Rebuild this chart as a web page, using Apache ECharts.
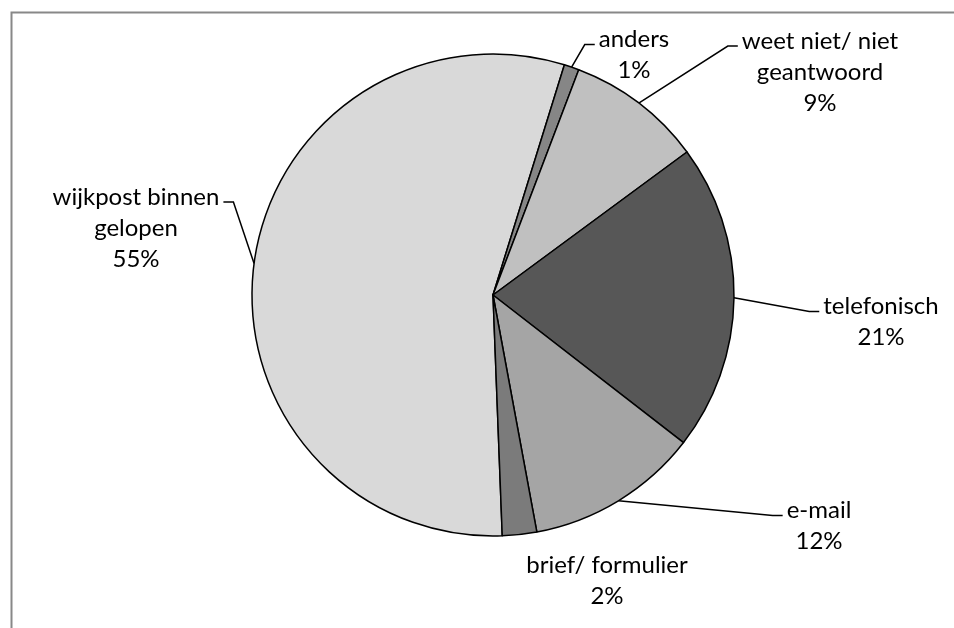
<!DOCTYPE html>
<html>
<head>
<meta charset="utf-8">
<script src="https://cdn.jsdelivr.net/npm/echarts@6/dist/echarts.min.js"></script>
<style>
  html, body { margin: 0; padding: 0; background: #fff; }
  #chart { width: 954px; height: 628px; }
</style>
</head>
<body>
<div id="chart"></div>
<script>
// data, clockwise starting just right of the bottom
const categories = ['wijkpost binnen\ngelopen', 'anders', 'weet niet/ niet\ngeantwoord', 'telefonisch', 'e-mail', 'brief/ formulier'];
const shares = [55.4, 1.0, 9.1, 20.6, 11.6, 2.3];
const sliceColors = ['#d9d9d9', '#868686', '#c0c0c0', '#575757', '#a5a5a5', '#7b7b7b'];

// where each label block sits, relative to the pie centre
const labelOffsets = [[-357, -67], [141, -240], [327, -223], [388, 27], [326, 231], [114, 286]];

const CX = 493, CY = 295, R = 241;
const START = 272.2;          // echarts angle (ccw from 3 o'clock)
const LINE_H = 31;

// mid angle of each slice, clockwise from 12 o'clock (radians)
const total = shares.reduce((a, b) => a + b, 0);
const midAngles = [];
let acc = 90 - START;
shares.forEach(v => {
    const span = v / total * 360;
    midAngles.push((acc + span / 2) * Math.PI / 180);
    acc += span;
});

const chart = echarts.init(document.getElementById('chart'));

const options = {
    animation: false,
    backgroundColor: '#fff',
    graphic: [{
        type: 'rect',
        silent: true,
        shape: { x: 11.5, y: 12.5, width: 1000, height: 700 },
        style: { fill: 'none', stroke: '#888888', lineWidth: 2 }
    }],
    series: [{
        type: 'pie',
        center: [CX, CY],
        radius: R,
        startAngle: START,
        clockwise: true,
        avoidLabelOverlap: false,
        emphasis: { disabled: true },
        itemStyle: { borderColor: '#000', borderWidth: 1.5 },
        label: {
            show: true,
            position: 'outside',
            fontFamily: 'Lato',
            fontSize: 24,
            lineHeight: LINE_H,
            color: '#000',
            formatter: p => p.name + '\n' + Math.round(p.value) + '%'
        },
        labelLine: {
            show: true,
            lineStyle: { color: '#000', width: 1.5 }
        },
        labelLayout: function (params) {
            const i = params.dataIndex;
            const off = labelOffsets[i];
            const x = CX + off[0], y = CY + off[1];
            const w = params.labelRect.width, h = params.labelRect.height;
            const lineY = y - h / 2 + LINE_H / 2 + 5;
            const sx = CX + R * Math.sin(midAngles[i]);
            const sy = CY - R * Math.cos(midAngles[i]);
            const side = off[0] > 0 ? -1 : 1;
            const ex = x + side * (w / 2 + 4);
            return {
                x: x,
                y: y,
                align: 'center',
                verticalAlign: 'middle',
                labelLinePoints: [[sx, sy], [ex + side * 10, lineY], [ex, lineY]]
            };
        },
        data: categories.map((name, i) => ({
            name: name,
            value: shares[i],
            itemStyle: { color: sliceColors[i] },
            labelLine: { show: i !== 5 }
        }))
    }]
};

chart.setOption(options);
</script>
</body>
</html>
